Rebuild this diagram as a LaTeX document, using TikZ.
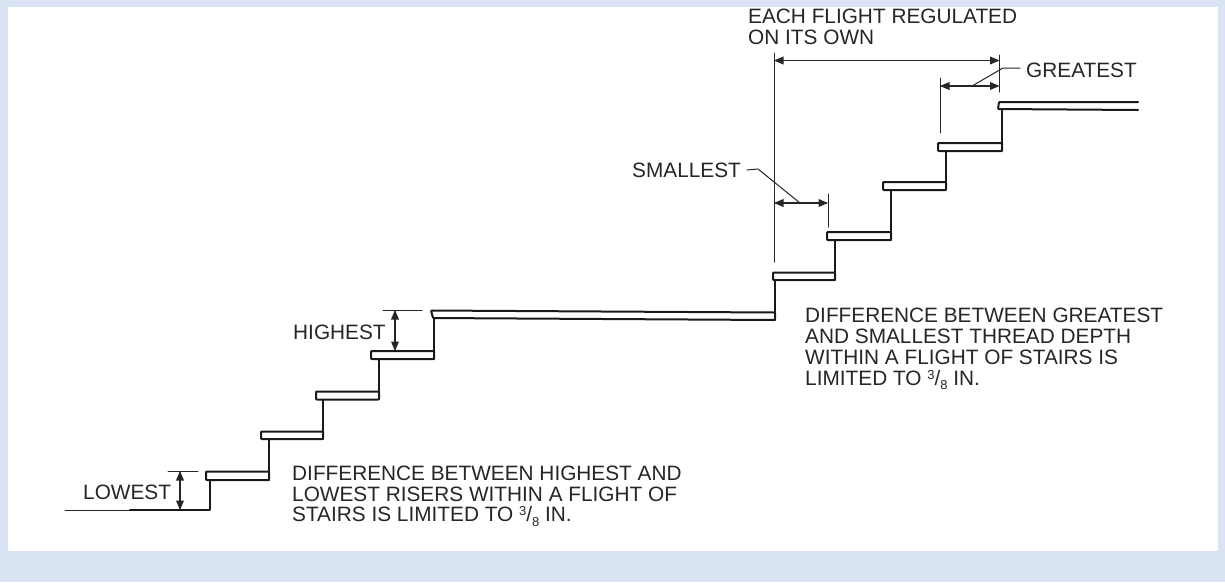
\documentclass[tikz,border=0pt]{standalone}
\usepackage{fontspec}
\setmainfont{Liberation Sans}
\usetikzlibrary{arrows}
\definecolor{pageblue}{RGB}{218,227,243}
\newcommand{\threeeighths}{\raisebox{0.3em}{\fontsize{13}{13}\selectfont 3}/\raisebox{-0.2em}{\fontsize{13}{13}\selectfont 8}}
\tikzset{
	tread/.style={line width=2pt,rounded corners=0.8pt,fill=white,draw=black!90},
	riser/.style={line width=2pt,draw=black!90},
	thin line/.style={line width=1pt,draw=black!85},
	dimline/.style={line width=1.2pt,color=black!85,<->},
	label/.style={anchor=west,inner sep=0pt,align=left,text=black!85,font=\fontsize{20.8}{20.8}\selectfont}
}
\begin{document}
\begin{tikzpicture}[line cap=round,line join=round,>=triangle 45,x=1pt,y=-1pt]
	\useasboundingbox (0,0) rectangle (1225,582);
	\fill [pageblue] (0,0) rectangle (1225,582);
	\fill [white] (8,7) rectangle (1218,551);
	% lower flight
	\draw [thin line] (65,510)-- (130,510);
	\draw [riser] (130,510)-- (210,510)-- (210,480);
	\draw [riser] (269,480)-- (269,439);
	\draw [riser] (323,439)-- (323,399);
	\draw [riser] (379,399)-- (379,359);
	\draw [riser] (434,359)-- (434,318);
	\draw [tread] (206,471.5) rectangle (269,480);
	\draw [tread] (261,431.5) rectangle (323,439);
	\draw [tread] (316,391.5) rectangle (379,399.5);
	\draw [tread] (371,351) rectangle (434,359);
	\draw [tread] (431,310.5) -- (775,312.5) -- (775,320) -- (433,318) -- cycle;
	% upper flight
	\draw [riser] (775,320)-- (775,280);
	\draw [riser] (835,280)-- (835,240);
	\draw [riser] (891,240)-- (891,190);
	\draw [riser] (946,190)-- (946,151);
	\draw [riser] (1002,151)-- (1002,110);
	\draw [tread] (773,272.5) rectangle (835,280);
	\draw [tread] (827,232) rectangle (891,240);
	\draw [tread] (883,182) rectangle (946,190);
	\draw [tread] (938,143) rectangle (1002,151);
	\draw [tread] (1138,102)-- (999,102)-- (998,109)-- (1138,110);
	% labels
	\node [label] (lowest) at (83,492) {LOWEST};
	\node [label] (highest) at (293,332) {HIGHEST};
	\node [label] (smallest) at (632,170) {SMALLEST};
	\node [label] (greatest) at (1026,70) {GREATEST};
	\node [label] (flightnote) at (748,27) {EACH FLIGHT REGULATED\\ON ITS OWN};
	\node [label] (risernote) at (292,496) {DIFFERENCE BETWEEN HIGHEST AND\\LOWEST RISERS WITHIN A FLIGHT OF\\STAIRS IS LIMITED TO \threeeighths\ IN.};
	\node [label] (threadnote) at (805,349) {DIFFERENCE BETWEEN GREATEST\\AND SMALLEST THREAD DEPTH\\WITHIN A FLIGHT OF STAIRS IS\\LIMITED TO \threeeighths\ IN.};
	% dimension ends
	\coordinate (lowtop) at (180,471);
	\coordinate (lowbot) at (180,510);
	\coordinate (hightop) at (395,310);
	\coordinate (highbot) at (395,351);
	\coordinate (flightleft) at (774,60.5);
	\coordinate (flightright) at (999.5,60.5);
	\coordinate (smallleft) at (774,203);
	\coordinate (smallright) at (828,203);
	\coordinate (greatleft) at (940,86);
	\coordinate (greatright) at (999.5,86);
	\coordinate (smallkink) at (758,169);
	\coordinate (greatkink) at (1003,68);
	% extension lines
	\draw [thin line] (168,471)-- (198,471);
	\draw [thin line] (383,310)-- (422,310);
	\draw [thin line] (774,53)-- (774,262);
	\draw [thin line] (999.5,55)-- (999.5,92);
	\draw [thin line] (940,78)-- (940,133);
	\draw [thin line] (828,194)-- (828,227);
	% dimension lines
	\draw [dimline] (lowtop)-- (lowbot);
	\draw [dimline] (hightop)-- (highbot);
	\draw [dimline] (flightleft)-- (flightright);
	\draw [dimline] (smallleft)-- (smallright);
	\draw [dimline] (greatleft)-- (greatright);
	% leaders
	\draw [thin line] (smallest.east) ++(6,0)-- (smallkink)-- (800,203);
	\draw [thin line] (greatest.west) ++(-6,-2)-- (greatkink)-- (972,86);
\end{tikzpicture}
\end{document}
